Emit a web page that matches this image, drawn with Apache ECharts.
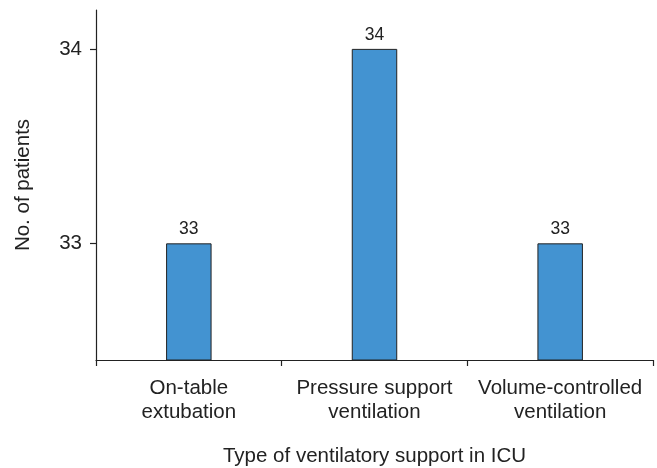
<!DOCTYPE html>
<html>
<head>
<meta charset="utf-8">
<script src="https://cdn.jsdelivr.net/npm/echarts@6/dist/echarts.min.js"></script>
<style>html,body{margin:0;padding:0;background:#fff}#c{width:657px;height:468px}</style>
</head>
<body>
<div id="c"></div>
<script>
const categories = ['On-table\nextubation', 'Pressure support\nventilation', 'Volume-controlled\nventilation'];
const patients = [33, 34, 33];
const yTicks = [33, 34];
const xName = 'Type of ventilatory support in ICU';
const yName = 'No. of patients';

const font = 'Liberation Sans, Arial, Helvetica, sans-serif';
const ink = '#222';
const chart = echarts.init(document.getElementById('c'), null, {renderer: 'canvas'});
chart.setOption({
  animation: false,
  grid: {left: 96, right: 4, top: 10, bottom: 108, containLabel: false, outerBoundsMode: 'none'},
  xAxis: {
    type: 'category',
    data: categories,
    name: xName,
    nameLocation: 'middle',
    nameGap: 86,
    nameTextStyle: {fontFamily: font, fontSize: 20.5, color: ink},
    axisLine: {lineStyle: {color: ink, width: 1.2}},
    axisTick: {show: true, length: 6, alignWithLabel: false, lineStyle: {color: ink, width: 1.2}},
    axisLabel: {fontFamily: font, fontSize: 20.5, color: ink, margin: 16, lineHeight: 24, interval: 0}
  },
  yAxis: {
    type: 'value',
    min: 32.4,
    max: 34.2,
    name: yName,
    nameLocation: 'middle',
    nameGap: 62,
    nameTextStyle: {fontFamily: font, fontSize: 20.5, color: ink},
    splitLine: {show: false},
    axisLine: {show: true, lineStyle: {color: ink, width: 1.2}},
    axisTick: {show: true, length: 6, customValues: yTicks, lineStyle: {color: ink, width: 1.2}},
    axisLabel: {fontFamily: font, fontSize: 20.5, color: ink, margin: 14, customValues: yTicks}
  },
  series: [{
    type: 'bar',
    data: patients,
    barWidth: '24.5%',
    itemStyle: {color: '#4393d1', borderColor: ink, borderWidth: 1},
    label: {show: true, position: 'top', distance: 5, fontFamily: font, fontSize: 17.5, color: ink}
  }]
});
</script>
</body>
</html>
